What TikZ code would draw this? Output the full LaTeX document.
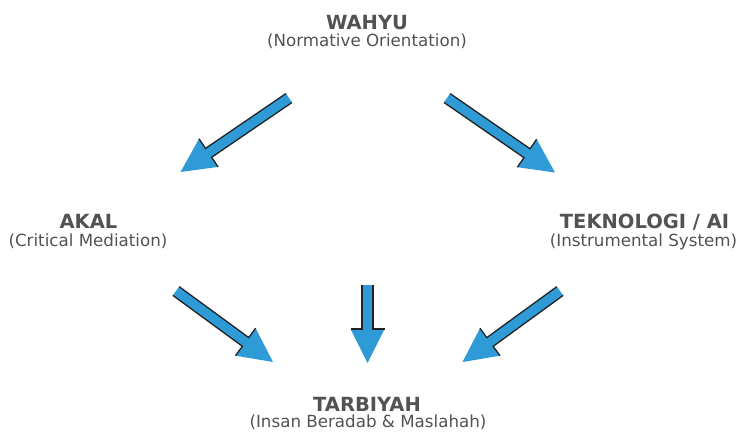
\documentclass[tikz,border=0pt]{standalone}
\usepackage{fontspec}
\setmainfont{DejaVu Sans}
\usetikzlibrary{calc}

\definecolor{arrowblue}{RGB}{46,154,214}
\definecolor{edgedark}{RGB}{34,34,34}
\definecolor{textgray}{RGB}{82,82,82}

\tikzset{
  title/.style={inner sep=0pt, anchor=base, text depth=0pt, text=textgray, font=\fontsize{19.5}{22}\selectfont\bfseries},
  subtitle/.style={inner sep=0pt, anchor=base, text=textgray, font=\fontsize{16.7}{20}\selectfont},
}

% block arrow from #1 (tail) to #2 (tip)
\newcommand{\blockarrow}[2]{%
  \coordinate (hb) at ($(#2)!34pt!(#1)$);
  \fill[arrowblue] ($(#1)!5.4pt!90:(#2)$) -- ($(hb)!5.4pt!90:(#2)$) -- ($(hb)!17pt!90:(#2)$)
    -- (#2) -- ($(hb)!17pt!-90:(#2)$) -- ($(hb)!5.4pt!-90:(#2)$) -- ($(#1)!5.4pt!-90:(#2)$) -- cycle;
  \draw[edgedark, line width=1.3pt] ($(#1)!5.4pt!90:(#2)$) -- ($(hb)!5.4pt!90:(#2)$) -- ($(hb)!17pt!90:(#2)$);
  \draw[edgedark, line width=1.3pt] ($(#1)!5.4pt!-90:(#2)$) -- ($(hb)!5.4pt!-90:(#2)$) -- ($(hb)!17pt!-90:(#2)$);
}

\begin{document}
\begin{tikzpicture}[x=1pt, y=-1pt]
  \useasboundingbox (0,0) rectangle (738,432);

  % labels
  \node[title] (wahyu) at (367,29) {WAHYU};
  \node[subtitle] (wahyusub) at (367,46) {(Normative Orientation)};
  \node[title] (akal) at (88.5,228) {AKAL};
  \node[subtitle] (akalsub) at (88,246) {(Critical Mediation)};
  \node[title] (tekno) at (644.5,228) {TEKNOLOGI / AI};
  \node[subtitle] (teknosub) at (643.5,246) {(Instrumental System)};
  \node[title] (tarbiyah) at (367,411) {TARBIYAH};
  \node[subtitle] (tarbiyahsub) at (368,427.5) {(Insan Beradab \& Maslahah)};

  % arrow ends
  \coordinate (wa-tail) at (289,98);
  \coordinate (wa-tip) at (180.5,172);
  \coordinate (wt-tail) at (447,98);
  \coordinate (wt-tip) at (555,172.5);
  \coordinate (at-tail) at (176,291);
  \coordinate (at-tip) at (273,362);
  \coordinate (ct-tail) at (367.5,285);
  \coordinate (ct-tip) at (367.5,363);
  \coordinate (tt-tail) at (560,291);
  \coordinate (tt-tip) at (462.5,362);

  % Draw the arrows
  \blockarrow{wa-tail}{wa-tip}
  \blockarrow{wt-tail}{wt-tip}
  \blockarrow{at-tail}{at-tip}
  \blockarrow{ct-tail}{ct-tip}
  \blockarrow{tt-tail}{tt-tip}
\end{tikzpicture}
\end{document}
